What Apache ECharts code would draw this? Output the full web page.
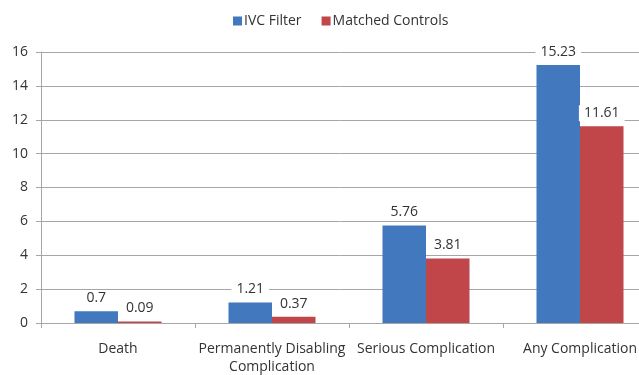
<!DOCTYPE html>
<html>
<head>
<meta charset="utf-8">
<script src="https://cdn.jsdelivr.net/npm/echarts@6/dist/echarts.min.js"></script>
<style>
  html, body { margin: 0; padding: 0; background: #fff; }
  #chart { width: 639px; height: 375px; }
</style>
</head>
<body>
<div id="chart"></div>
<script>
// Complication rates: IVC filter patients vs matched controls
const categories = ['Death', 'Permanently Disabling\nComplication', 'Serious Complication', 'Any Complication'];
const ivcFilter = [0.7, 1.21, 5.76, 15.23];
const matchedControls = [0.09, 0.37, 3.81, 11.61];
const yTicks = [0, 2, 4, 6, 8, 10, 12, 14, 16];

const font = 'Open Sans, Liberation Sans, sans-serif';
const gridColor = '#a6a6a6';

const valueLabel = {
  show: true,
  position: 'top',
  distance: 5,
  color: '#333',
  fontFamily: font,
  fontSize: 14,
  backgroundColor: '#fff',
  padding: [1, 5, 1, 5]
};

const chart = echarts.init(document.getElementById('chart'));
chart.setOption({
  animation: false,
  textStyle: { fontFamily: font },
  legend: {
    top: 9,
    left: 228,
    itemWidth: 9,
    itemHeight: 9,
    itemGap: 20,
    icon: 'rect',
    textStyle: { fontFamily: font, fontSize: 14, color: '#333', padding: [0, 0, 0, -3] },
    data: ['IVC Filter', 'Matched Controls']
  },
  // plot area runs past the right edge of the canvas
  grid: { left: 41, width: 616, top: 52, bottom: 52, containLabel: false, outerBoundsMode: 'none' },
  xAxis: {
    type: 'category',
    data: categories,
    axisLine: { lineStyle: { color: gridColor } },
    axisTick: { show: true, length: 5, lineStyle: { color: gridColor } },
    axisLabel: { color: '#333', fontFamily: font, fontSize: 14, margin: 17, lineHeight: 18, interval: 0 }
  },
  yAxis: {
    type: 'value',
    min: yTicks[0],
    max: yTicks[yTicks.length - 1],
    interval: 2,
    axisLine: { show: true, lineStyle: { color: gridColor } },
    axisTick: { show: true, length: 5, lineStyle: { color: gridColor } },
    splitLine: { lineStyle: { color: gridColor } },
    axisLabel: { color: '#333', fontFamily: font, fontSize: 14, margin: 13 }
  },
  series: [
    {
      name: 'IVC Filter',
      type: 'bar',
      data: ivcFilter,
      itemStyle: { color: '#4178be' },
      barGap: '0%',
      barCategoryGap: '43.5%',
      label: valueLabel
    },
    {
      name: 'Matched Controls',
      type: 'bar',
      data: matchedControls,
      itemStyle: { color: '#c0464a' },
      label: valueLabel
    }
  ]
});
</script>
</body>
</html>
